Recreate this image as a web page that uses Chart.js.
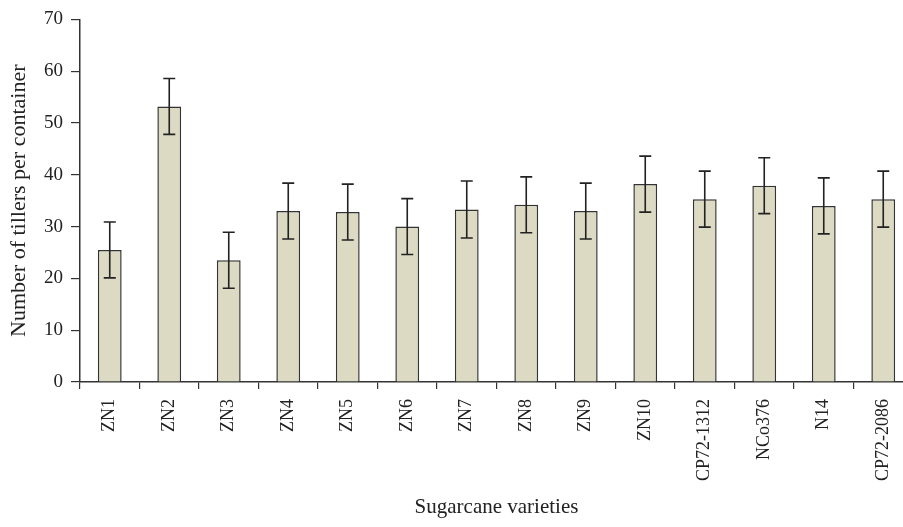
<!DOCTYPE html>
<html lang="en">
<head>
<meta charset="UTF-8">
<title>Tillers per container</title>
<script src="https://cdn.jsdelivr.net/npm/chart.js@4"></script>
<style>
  * { margin: 0; padding: 0; box-sizing: border-box; }
  html, body { width: 903px; height: 527px; overflow: hidden; background: #fff; }
  #wrap { width: 915px; height: 527px; position: relative; }
</style>
</head>
<body>
<div id="wrap"><canvas id="chart"></canvas></div>
<script>
const varieties = ['ZN1', 'ZN2', 'ZN3', 'ZN4', 'ZN5', 'ZN6', 'ZN7', 'ZN8', 'ZN9', 'ZN10', 'CP72-1312', 'NCo376', 'N14', 'CP72-2086'];
const tillers = [25.5, 53.2, 23.5, 33.0, 32.8, 30.0, 33.3, 34.2, 33.0, 38.2, 35.3, 37.9, 34.0, 35.3];
const errors = [5.4, 5.4, 5.4, 5.4, 5.4, 5.4, 5.5, 5.4, 5.4, 5.4, 5.4, 5.4, 5.4, 5.4];
const yTicks = [0, 10, 20, 30, 40, 50, 60, 70];

const serif = "'Liberation Serif', 'DejaVu Serif', serif";
const ink = '#333';

// draws the +/- error bars on top of each bar
const errorBars = {
  id: 'errorBars',
  afterDatasetsDraw(chart) {
    const ctx = chart.ctx;
    const y = chart.scales.y;
    const meta = chart.getDatasetMeta(0);
    ctx.save();
    ctx.strokeStyle = '#222';
    ctx.lineWidth = 1.6;
    meta.data.forEach((bar, i) => {
      const top = y.getPixelForValue(tillers[i] + errors[i]);
      const bot = y.getPixelForValue(tillers[i] - errors[i]);
      const cap = 6;
      ctx.beginPath();
      ctx.moveTo(bar.x, top); ctx.lineTo(bar.x, bot);
      ctx.moveTo(bar.x - cap, top); ctx.lineTo(bar.x + cap, top);
      ctx.moveTo(bar.x - cap, bot); ctx.lineTo(bar.x + cap, bot);
      ctx.stroke();
    });
    ctx.restore();
  }
};

new Chart(document.getElementById('chart'), {
  type: 'bar',
  data: {
    labels: varieties,
    datasets: [{
      data: tillers,
      backgroundColor: '#dcdac3',
      borderColor: ink,
      borderWidth: 1.5,
      categoryPercentage: 1,
      barPercentage: 0.4
    }]
  },
  options: {
    responsive: true,
    maintainAspectRatio: false,
    animation: false,
    layout: { padding: { top: 10, left: 0, right: 2, bottom: 0 } },
    plugins: { legend: { display: false }, tooltip: { enabled: false } },
    scales: {
      x: {
        grid: { offset: true, drawOnChartArea: false, drawTicks: true, tickLength: 7, color: ink, lineWidth: 1.2 },
        border: { color: ink, width: 1.5 },
        ticks: { color: '#222', font: { family: serif, size: 18 }, minRotation: 90, maxRotation: 90, padding: 10, autoSkip: false },
        title: { display: true, text: 'Sugarcane varieties', color: '#222', font: { family: serif, size: 21 }, padding: { top: 4, bottom: 7 } },
        afterFit(scale) { scale.height = 145; }
      },
      y: {
        min: 0,
        max: 70,
        afterBuildTicks(scale) { scale.ticks = yTicks.map(v => ({ value: v })); },
        grid: { drawOnChartArea: false, drawTicks: true, tickLength: 9, color: ink, lineWidth: 1.2 },
        border: { color: ink, width: 1.5 },
        ticks: { color: '#222', font: { family: serif, size: 19 }, padding: 8 },
        title: { display: true, text: 'Number of tillers per container', color: '#222', font: { family: serif, size: 22 }, padding: { top: 6, bottom: 2 } },
        afterFit(scale) { scale.width = 80; }
      }
    }
  },
  plugins: [errorBars]
});
</script>
</body>
</html>
